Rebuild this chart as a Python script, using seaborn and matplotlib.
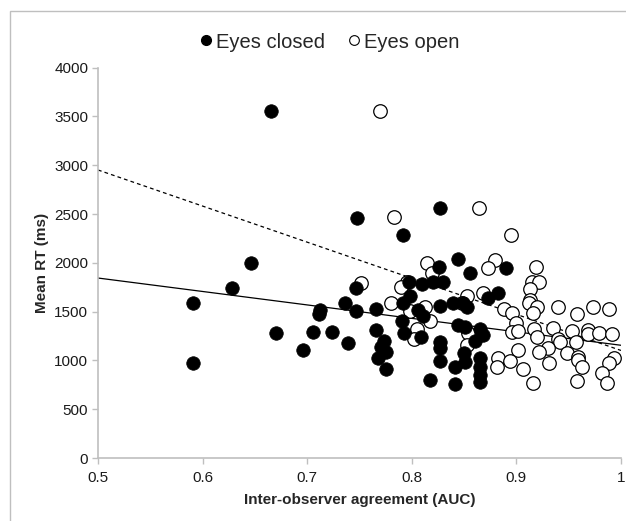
import matplotlib
matplotlib.use("Agg")
import matplotlib.pyplot as plt
import seaborn as sns
import pandas as pd
from matplotlib.patches import Rectangle
from matplotlib.lines import Line2D

# values
closed_auc = [0.591, 0.591, 0.628, 0.646, 0.665, 0.670, 0.696, 0.706, 0.711, 0.712,
              0.724, 0.736, 0.739, 0.747, 0.747, 0.748, 0.766, 0.766, 0.773, 0.771,
              0.775, 0.768, 0.775, 0.792, 0.791, 0.793, 0.792, 0.797, 0.798, 0.806,
              0.811, 0.809, 0.817, 0.810, 0.820, 0.830, 0.826, 0.827, 0.844, 0.856,
              0.890, 0.882, 0.873, 0.839, 0.849, 0.827, 0.853, 0.844, 0.851, 0.865,
              0.868, 0.827, 0.827, 0.860, 0.850, 0.827, 0.865, 0.865, 0.851, 0.841,
              0.865, 0.865, 0.841]
closed_rt = [1591, 976, 1742, 1995, 3560, 1278, 1107, 1291, 1475, 1516,
             1291, 1585, 1178, 1506, 1739, 2460, 1530, 1311, 1202, 1134,
             1089, 1028, 909, 2285, 1404, 1281, 1588, 1800, 1663, 1516,
             1455, 1240, 799, 1780, 1800, 1800, 1954, 2565, 2036, 1892,
             1947, 1690, 1639, 1588, 1588, 1557, 1547, 1363, 1342, 1322,
             1260, 1189, 1127, 1199, 1076, 994, 1025, 932, 984, 932,
             850, 779, 758]

open_auc = [0.770, 0.783, 0.864, 0.895, 0.815, 0.819, 0.751, 0.795, 0.790, 0.780,
            0.798, 0.813, 0.817, 0.805, 0.802, 0.880, 0.873, 0.919, 0.915, 0.922,
            0.913, 0.853, 0.868, 0.913, 0.848, 0.888, 0.896, 0.912, 0.920, 0.916,
            0.940, 0.958, 0.973, 0.989, 0.900, 0.896, 0.902, 0.854, 0.917, 0.920,
            0.935, 0.953, 0.968, 0.968, 0.979, 0.991, 0.853, 0.902, 0.940, 0.942,
            0.957, 0.930, 0.922, 0.948, 0.959, 0.959, 0.993, 0.989, 0.963, 0.931,
            0.882, 0.881, 0.894, 0.906, 0.916, 0.958, 0.982, 0.987]
open_rt = [3560, 2469, 2565, 2285, 1998, 1895, 1790, 1806, 1755, 1590,
           1506, 1547, 1404, 1322, 1219, 2029, 1947, 1957, 1803, 1803,
           1732, 1660, 1690, 1619, 1588, 1527, 1486, 1588, 1547, 1486,
           1547, 1475, 1547, 1527, 1383, 1291, 1301, 1281, 1322, 1240,
           1332, 1301, 1311, 1271, 1281, 1270, 1158, 1107, 1219, 1189,
           1189, 1127, 1086, 1076, 1035, 1004, 1025, 973, 932, 973,
           1025, 932, 994, 912, 768, 789, 871, 768]

# linear trend lines as shown in the chart: (intercept, slope)
closed_trend = (2533, -1378)
open_trend = (4800, -3698)
trend_x = [0.5, 1.0]

x_ticks = [0.5, 0.6, 0.7, 0.8, 0.9, 1.0]
x_tick_labels = ["0.5", "0.6", "0.7", "0.8", "0.9", "1"]
y_ticks = [0, 500, 1000, 1500, 2000, 2500, 3000, 3500, 4000]

closed_df = pd.DataFrame({"auc": closed_auc, "rt": closed_rt})
open_df = pd.DataFrame({"auc": open_auc, "rt": open_rt})
trend_df = pd.DataFrame({
    "auc": trend_x,
    "closed": [closed_trend[0] + closed_trend[1] * x for x in trend_x],
    "open": [open_trend[0] + open_trend[1] * x for x in trend_x],
})

sns.set_style("white")
plt.rcParams["font.family"] = ["Liberation Sans", "DejaVu Sans"]

fig = plt.figure(figsize=(6.26, 5.21), dpi=100)
ax = fig.add_axes([98 / 626, 1 - 458 / 521, (621 - 98) / 626, (458 - 67.6) / 521])

# outer frame of the chart area (right and bottom edges fall outside the crop)
fig.patches.append(Rectangle((10 / 626, -0.05), 1.05, 1.05 - 11 / 521,
                             transform=fig.transFigure, fill=False,
                             edgecolor="#bfbfbf", linewidth=1.0))

# trend lines
sns.lineplot(data=trend_df, x="auc", y="closed", ax=ax, color="black", linewidth=0.9)
sns.lineplot(data=trend_df, x="auc", y="open", ax=ax, color="black", linewidth=0.9,
             linestyle=(0, (3, 2.5)))

sns.scatterplot(data=open_df, x="auc", y="rt", ax=ax, s=95, color="white",
                edgecolor="black", linewidth=0.9, zorder=3)
sns.scatterplot(data=closed_df, x="auc", y="rt", ax=ax, s=95, color="black",
                edgecolor="black", linewidth=0.5, zorder=4)

ax.set_xlim(0.5, 1.0)
ax.set_ylim(0, 4000)
ax.set_xticks(x_ticks)
ax.set_xticklabels(x_tick_labels)
ax.set_yticks(y_ticks)

for side in ["top", "right"]:
    ax.spines[side].set_visible(False)
for side in ["left", "bottom"]:
    ax.spines[side].set_color("#bfbfbf")
    ax.spines[side].set_linewidth(1.2)
ax.tick_params(axis="both", direction="out", length=4, width=1, color="#bfbfbf",
               labelsize=11, labelcolor="#1a1a1a", bottom=True, left=True)
ax.tick_params(axis="x", pad=5)
ax.tick_params(axis="y", pad=3)

ax.set_xlabel("Inter-observer agreement (AUC)", fontsize=11, fontweight="bold", labelpad=6)
ax.set_ylabel("Mean RT (ms)", fontsize=11, fontweight="bold", labelpad=4)

handles = [Line2D([], [], marker="o", linestyle="none", markersize=7,
                  markerfacecolor="black", markeredgecolor="black"),
           Line2D([], [], marker="o", linestyle="none", markersize=7,
                  markerfacecolor="white", markeredgecolor="black", markeredgewidth=0.8)]
fig.legend(handles, ["Eyes closed", "Eyes open"], loc="center",
           bbox_to_anchor=(0.524, 1 - 42 / 521), ncol=2, frameon=False,
           fontsize=14.5, handletextpad=0.05, columnspacing=1.0, handlelength=0.9)

fig.savefig("out.png", dpi=100)
